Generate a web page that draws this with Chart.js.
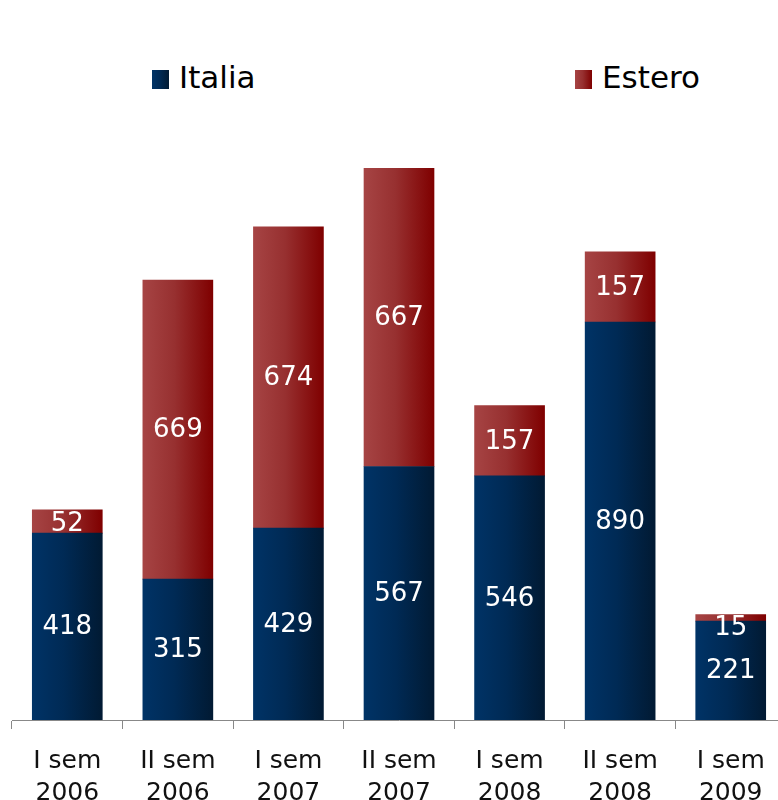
<!DOCTYPE html>
<html>
<head>
<meta charset="utf-8">
<script src="https://cdn.jsdelivr.net/npm/chart.js@4"></script>
<style>
  html, body { margin: 0; padding: 0; background: #fff; overflow: hidden; width: 778px; height: 800px; }
  #wrap { position: absolute; left: 0; top: 0; width: 792px; height: 825px; }
  .legend { position: absolute; top: 58px; font-family: "DejaVu Sans", Verdana, sans-serif; font-size: 31px; color: #000; line-height: 38px; }
  .legend span.box { display: inline-block; width: 17px; height: 19px; vertical-align: -1px; margin-right: 10px; }
  #legItalia { left: 152px; }
  #legEstero { left: 575px; }
  #legItalia .box { background: linear-gradient(to right, #003366, #002a55 45%, #011a33); }
  #legEstero .box { background: linear-gradient(to right, #a64444, #973030 45%, #7f0000); }
</style>
</head>
<body>
<div class="legend" id="legItalia"><span class="box"></span>Italia</div>
<div class="legend" id="legEstero"><span class="box"></span>Estero</div>
<div id="wrap"><canvas id="chart" width="792" height="825"></canvas></div>
<script>
const categories = [
  ["I sem", "2006"],
  ["II sem", "2006"],
  ["I sem", "2007"],
  ["II sem", "2007"],
  ["I sem", "2008"],
  ["II sem", "2008"],
  ["I sem", "2009"],
];
const italia = [418, 315, 429, 567, 546, 890, 221];
const estero = [52, 669, 674, 667, 157, 157, 15];

const BAR_W = 70;

// horizontal shading across each bar
function barGradient(context, stops) {
  const chart = context.chart;
  if (!chart.chartArea || context.dataIndex === undefined) return stops[0];
  const x = chart.scales.x.getPixelForValue(context.dataIndex);
  const g = chart.ctx.createLinearGradient(x - BAR_W / 2, 0, x + BAR_W / 2, 0);
  g.addColorStop(0, stops[0]);
  g.addColorStop(0.45, stops[1]);
  g.addColorStop(1, stops[2]);
  return g;
}

// value written inside every segment
const barLabels = {
  id: "barLabels",
  afterDatasetsDraw(chart) {
    const ctx = chart.ctx;
    ctx.save();
    ctx.font = "26px 'DejaVu Sans'";
    ctx.fillStyle = "#fff";
    ctx.textAlign = "center";
    ctx.textBaseline = "middle";
    chart.data.datasets.forEach((ds, i) => {
      chart.getDatasetMeta(i).data.forEach((bar, j) => {
        const top = Math.min(bar.y, bar.base);
        const y = Math.max((bar.y + bar.base) / 2, top + 13);
        ctx.fillText(ds.data[j], bar.x, y + 1);
      });
    });
    ctx.restore();
  },
};

new Chart(document.getElementById("chart"), {
  type: "bar",
  data: {
    labels: categories,
    datasets: [
      {
        label: "Italia",
        data: italia,
        backgroundColor: (c) => barGradient(c, ["#003366", "#002a55", "#011a33"]),
        barThickness: BAR_W,
      },
      {
        label: "Estero",
        data: estero,
        backgroundColor: (c) => barGradient(c, ["#a64444", "#973030", "#7f0000"]),
        barThickness: BAR_W,
      },
    ],
  },
  options: {
    responsive: false,
    animation: false,
    layout: { padding: { left: 12, right: 6, top: 94, bottom: 0 } },
    plugins: {
      legend: { display: false },
      tooltip: { enabled: false },
    },
    scales: {
      x: {
        stacked: true,
        grid: {
          offset: true,
          drawOnChartArea: false,
          tickLength: 9,
          color: "#888",
        },
        border: { display: true, color: "#888", width: 1 },
        ticks: {
          color: "#111",
          padding: 16,
          maxRotation: 0,
          font: { family: "DejaVu Sans", size: 25, lineHeight: 1.28 },
        },
      },
      y: {
        stacked: true,
        display: false,
        min: 0,
        max: 1400,
      },
    },
  },
  plugins: [barLabels],
});
</script>
</body>
</html>
